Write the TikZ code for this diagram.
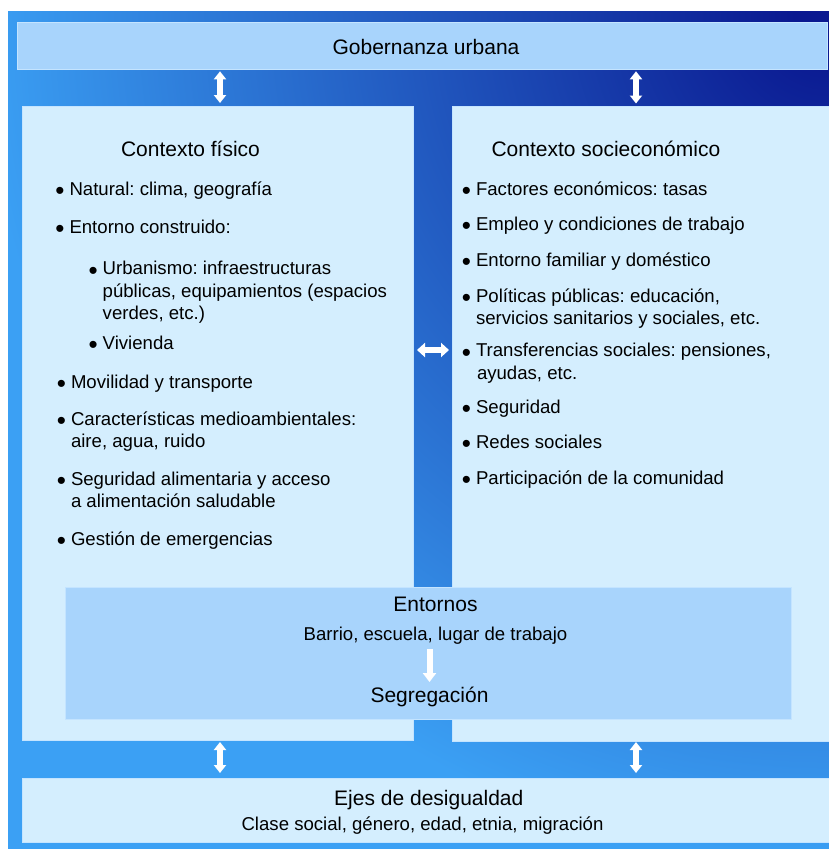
\documentclass[tikz,border=0pt]{standalone}
\usepackage{fontspec}
\setmainfont{Liberation Sans}
\usetikzlibrary{arrows.meta}
\definecolor{navyc}{HTML}{0A1890}
\definecolor{lightc}{HTML}{3BA0F4}
\definecolor{barc}{HTML}{A8D4FC}
\definecolor{panelc}{HTML}{D4EEFE}
\definecolor{edgec}{HTML}{C4E4FF}
\pgfdeclareradialshading{bgrad}{\pgfpoint{0bp}{0bp}}{color(0bp)=(navyc); color(1bp)=(navyc); color(25bp)=(lightc); color(50bp)=(lightc)}
\frenchspacing
\begin{document}
\begin{tikzpicture}[x=1pt,y=-1pt,
  box/.style={draw=edgec, line width=0.8pt, inner sep=0pt, outer sep=0pt},
  ttl/.style={font=\fontsize{21}{25}\selectfont, inner sep=0pt, outer sep=0pt, anchor=base},
  itm/.style={font=\fontsize{18.6}{22.2}\selectfont, inner sep=0pt, outer sep=0pt, anchor=base west, align=left},
  dbl/.style={draw=white, line width=5.5pt, {Triangle[width=12pt,length=8pt]}-{Triangle[width=12pt,length=8pt]}},
  dblh/.style={draw=white, line width=6pt, {Triangle[width=14pt,length=8pt]}-{Triangle[width=14pt,length=8pt]}},
  downarr/.style={draw=white, line width=6pt, -{Triangle[width=13pt,length=9pt]}}]
\newcommand{\bul}{\llap{\raisebox{-4.3pt}{\scalebox{1.4}{\textbullet}}\hspace{5pt}}}
\useasboundingbox (0,0) rectangle (829,849);
\fill[white] (0,0) rectangle (829,849);
\begin{scope}
  \clip (8,11) rectangle (829,849);
  \fill[lightc] (8,11) rectangle (829,849);
  \shade[shading=bgrad] (829,11) circle (850);
\end{scope}
% boxes
\node[box, fill=barc, minimum width=810pt, minimum height=46.6pt] (gob) at (422,46) {};
\node[box, fill=panelc, minimum width=390.5pt, minimum height=634pt] (lp) at (217.75,423) {};
\node[box, fill=panelc, minimum width=380pt, minimum height=634.5pt] (rp) at (642,423.75) {};
\node[box, fill=barc, minimum width=726pt, minimum height=132pt] (ent) at (428,653) {};
\node[box, fill=panelc, minimum width=812pt, minimum height=64pt] (eje) at (428,810) {};
% titles
\node[ttl] (tgob) at (426,54) {Gobernanza urbana};
\node[ttl, anchor=base west] (tfis) at (121,156) {Contexto físico};
\node[ttl, anchor=base west] (tsoc) at (491.5,156) {Contexto socieconómico};
% left items (multi-line nodes are placed by their last baseline)
\node[itm] (l1) at (69.5,195) {\bul Natural: clima, geografía};
\node[itm] (l2) at (69.5,233.3) {\bul Entorno construido:};
\node[itm] (l3) at (102.7,319.3) {\bul Urbanismo: infraestructuras\\públicas, equipamientos (espacios\\verdes, etc.)};
\node[itm] (l4) at (102.7,349) {\bul Vivienda};
\node[itm] (l5) at (71,388.3) {\bul Movilidad y transporte};
\node[itm] (l6) at (71,447.7) {\bul Características medioambientales:\\aire, agua, ruido};
\node[itm] (l7) at (71,507.7) {\bul Seguridad alimentaria y acceso\\a alimentación saludable};
\node[itm] (l8) at (71,545) {\bul Gestión de emergencias};
% right items
\node[itm] (r1) at (476,195) {\bul Factores económicos: tasas};
\node[itm] (r2) at (476,230) {\bul Empleo y condiciones de trabajo};
\node[itm] (r3) at (476,266) {\bul Entorno familiar y doméstico};
\node[itm] (r4) at (476,324.3) {\bul Políticas públicas: educación,\\servicios sanitarios y sociales, etc.};
\node[itm] (r5) at (476,379) {\bul Transferencias sociales: pensiones,\\\hspace*{1pt}ayudas, etc.};
\node[itm] (r6) at (476,413.3) {\bul Seguridad};
\node[itm] (r7) at (476,448.3) {\bul Redes sociales};
\node[itm] (r8) at (476,484) {\bul Participación de la comunidad};
% entornos
\node[ttl] (tent) at (435.5,611.7) {Entornos};
\node[itm, anchor=base] (tbar) at (435.5,640) {Barrio, escuela, lugar de trabajo};
\node[ttl] (tseg) at (429.5,702) {Segregación};
% ejes
\node[ttl] (teje) at (428.8,805) {Ejes de desigualdad};
\node[itm, anchor=base] (tcla) at (422.5,830.7) {Clase social, género, edad, etnia, migración};
% connectors
\coordinate (xa) at (220,0);
\coordinate (xb) at (636,0);
\coordinate (xc) at (429.5,0);
\coordinate (ym) at (0,350);
\draw[dbl, shorten <=2pt, shorten >=3pt] (gob.south -| xa) -- (lp.north -| xa);
\draw[dbl, shorten <=2pt, shorten >=3pt] (gob.south -| xb) -- (rp.north -| xb);
\draw[dblh, shorten <=4pt, shorten >=3pt] (lp.east |- ym) -- (rp.west |- ym);
\draw[dbl, shorten <=2pt, shorten >=5pt] (lp.south -| xa) -- (eje.north -| xa);
\draw[dbl, shorten <=1pt, shorten >=5pt] (rp.south -| xb) -- (eje.north -| xb);
\draw[downarr, shorten <=5pt, shorten >=4.5pt] (tbar.south -| xc) -- (tseg.north -| xc);
\end{tikzpicture}
\end{document}
